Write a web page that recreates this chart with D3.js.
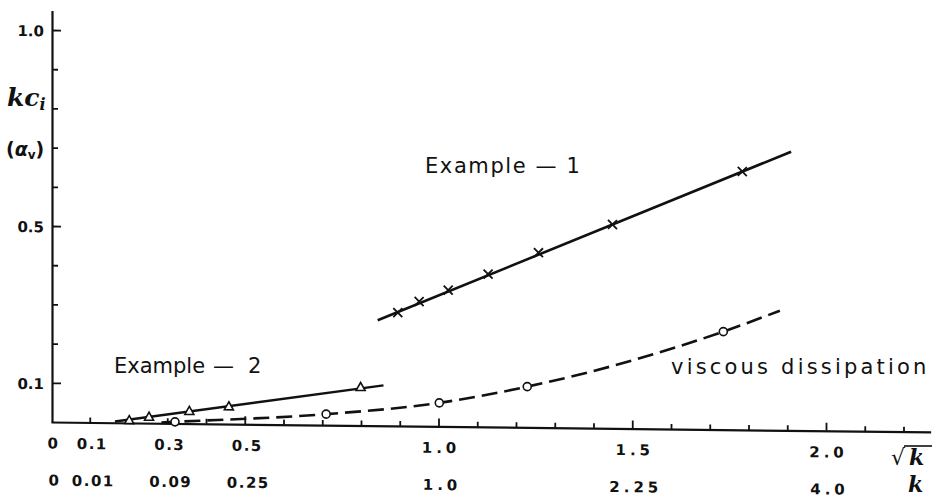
<!DOCTYPE html>
<html>
<head>
<meta charset="utf-8">
<script src="https://cdn.jsdelivr.net/npm/d3@7"></script>
<style>
  body { margin: 0; background: #fff; }
  svg { display: block; }
  .note { font-family: "DejaVu Sans", sans-serif; font-size: 21px; fill: #111; }
</style>
</head>
<body>
<div id="chart"></div>
<script>
// x is sqrt(k); second label row gives k itself
var xTickVals = [0, 0.1, 0.3, 0.5, 1.0, 1.5, 2.0];
var xLabelsSqrtK = ["0", "0.1", "0.3", "0.5", "1.0", "1.5", "2.0"];
var xLabelsK = ["0", "0.01", "0.09", "0.25", "1.0", "2.25", "4.0"];
var yTickVals = [0.1, 0.5, 1.0];
var yLabels = ["0.1", "0.5", "1.0"];

// Example 1 (crosses) and its fitted line
var ex1X = [0.895, 0.950, 1.025, 1.128, 1.258, 1.449, 1.784];
var ex1Y = [0.289, 0.318, 0.348, 0.390, 0.446, 0.520, 0.659];
var ex1Line = [[0.843, 0.269], [1.910, 0.711]];

// Example 2 (triangles) and its line
var ex2X = [0.202, 0.253, 0.357, 0.459, 0.799];
var ex2Y = [0.006, 0.015, 0.031, 0.044, 0.097];
var ex2Line = [[0.165, 0.003], [0.858, 0.103]];

// viscous dissipation (circles), dashed curve
var viscX = [0.320, 0.710, 1.002, 1.229, 1.735];
var viscY = [0.004, 0.028, 0.060, 0.104, 0.250];
var viscStart = [0.285, 0.002];
var viscEnd = [1.881, 0.305];

var width = 940, height = 502;

var svg = d3.select('#chart').append('svg')
  .attr('width', width)
  .attr('height', height);

// scanned figure is slightly sheared, bottom axis drops to the right
var plot = svg.append('g')
  .attr('transform', 'translate(52,0) skewY(0.65) translate(-52,0)');

var x = d3.scaleLinear().domain([0, 2.27]).range([51, 51 + 2.27 * 387.5]);
var y = d3.scaleLinear().domain([0, 1.05]).range([422, 422 - 1.05 * 392]);

var minorX = d3.range(1, 23).map(function(i) { return i / 10; });
var minorY = d3.range(1, 11).map(function(i) { return i / 10; });

function labelStyle(sel) {
  sel.selectAll('.tick text')
    .attr('font-family', '"DejaVu Sans", sans-serif')
    .attr('font-weight', 'bold')
    .attr('font-size', 15)
    .attr('fill', '#111');
}

// bottom axis, ticks pointing up
var xAxis = plot.append('g')
  .attr('transform', 'translate(0,' + y(0) + ')')
  .call(d3.axisBottom(x).tickValues(minorX).tickSize(-5).tickSizeOuter(0).tickFormat(''));
xAxis.select('.domain').attr('stroke', '#111').attr('stroke-width', 2.2);
xAxis.selectAll('.tick line')
  .attr('stroke', '#111').attr('stroke-width', 1.8)
  .attr('y2', function(d) { return (Math.abs(d * 2 - Math.round(d * 2)) < 1e-6) ? -8 : -5; });

// left axis, ticks pointing right
var yAxis = plot.append('g')
  .attr('transform', 'translate(52,0)')
  .call(d3.axisLeft(y).tickValues(minorY).tickSize(-6).tickSizeOuter(0).tickFormat(''));
yAxis.select('.domain').attr('stroke', '#111').attr('stroke-width', 2.2);
yAxis.selectAll('.tick line')
  .attr('stroke', '#111').attr('stroke-width', 1.8)
  .attr('x2', function(d) { return yTickVals.indexOf(Math.round(d * 10) / 10) >= 0 ? 9 : 6; });

// y labels
var yLab = plot.append('g')
  .attr('transform', 'translate(44,0)')
  .call(d3.axisLeft(y).tickValues(yTickVals).tickSize(0)
    .tickFormat(function(d, i) { return yLabels[i]; }));
yLab.select('.domain').remove();
labelStyle(yLab);
yLab.selectAll('.tick text').attr('x', 0).attr('dy', '0.4em');

// two rows of x labels
var row1 = plot.append('g')
  .attr('transform', 'translate(2,' + (y(0) + 13) + ')')
  .call(d3.axisBottom(x).tickValues(xTickVals).tickSize(0)
    .tickFormat(function(d, i) { return xLabelsSqrtK[i]; }));
row1.select('.domain').remove();
labelStyle(row1);
row1.selectAll('.tick text').attr('letter-spacing', function(d) { return d >= 1 ? 4 : 1.5; });

var row2 = plot.append('g')
  .attr('transform', 'translate(3,' + (y(0) + 50) + ')')
  .call(d3.axisBottom(x).tickValues(xTickVals).tickSize(0)
    .tickFormat(function(d, i) { return xLabelsK[i]; }));
row2.select('.domain').remove();
labelStyle(row2);
row2.selectAll('.tick text').attr('letter-spacing', function(d) { return d >= 1 ? 4 : 1.5; });

var line = d3.line()
  .x(function(d) { return x(d[0]); })
  .y(function(d) { return y(d[1]); });

// Example 1
plot.append('path')
  .datum(ex1Line)
  .attr('d', line)
  .attr('fill', 'none').attr('stroke', '#111').attr('stroke-width', 2.6);

plot.append('g').selectAll('.cross')
  .data(d3.zip(ex1X, ex1Y))
  .enter().append('path')
  .attr('class', 'cross')
  .attr('d', function(d) {
    var cx = x(d[0]), cy = y(d[1]), s = 4.5;
    return 'M' + (cx - s) + ',' + (cy - s) + 'L' + (cx + s) + ',' + (cy + s) +
      'M' + (cx - s) + ',' + (cy + s) + 'L' + (cx + s) + ',' + (cy - s);
  })
  .attr('stroke', '#111').attr('stroke-width', 1.8);

// Example 2
plot.append('path')
  .datum(ex2Line)
  .attr('d', line)
  .attr('fill', 'none').attr('stroke', '#111').attr('stroke-width', 2.4);

plot.append('g').selectAll('.tri')
  .data(d3.zip(ex2X, ex2Y))
  .enter().append('path')
  .attr('class', 'tri')
  .attr('d', function(d) {
    var cx = x(d[0]), cy = y(d[1]);
    return 'M' + cx + ',' + (cy - 5) + 'L' + (cx + 4.5) + ',' + (cy + 3) + 'L' + (cx - 4.5) + ',' + (cy + 3) + 'Z';
  })
  .attr('fill', '#fff').attr('stroke', '#111').attr('stroke-width', 1.6);

// viscous dissipation
var viscPts = [viscStart].concat(d3.zip(viscX, viscY), [viscEnd]);
plot.append('path')
  .datum(viscPts)
  .attr('d', line.curve(d3.curveMonotoneX))
  .attr('fill', 'none').attr('stroke', '#111').attr('stroke-width', 2.6)
  .attr('stroke-dasharray', '16,7');

plot.append('g').selectAll('.circ')
  .data(d3.zip(viscX, viscY))
  .enter().append('circle')
  .attr('class', 'circ')
  .attr('cx', function(d) { return x(d[0]); })
  .attr('cy', function(d) { return y(d[1]); })
  .attr('r', 4)
  .attr('fill', '#fff').attr('stroke', '#111').attr('stroke-width', 1.6);

// annotations
svg.append('text').attr('class', 'note')
  .attr('x', 425).attr('y', 173).attr('letter-spacing', 1.6)
  .text('Example — 1');

var e2 = svg.append('text').attr('class', 'note')
  .attr('x', 114).attr('y', 373).attr('font-size', 22);
e2.append('tspan').text('Example');
e2.append('tspan').attr('dx', 8).text('—');
e2.append('tspan').attr('dx', 14).text('2');

svg.append('text').attr('class', 'note')
  .attr('x', 671).attr('y', 374).attr('letter-spacing', 3.2)
  .text('viscous dissipation');

// y axis title
var yt = svg.append('text')
  .attr('x', 7).attr('y', 106)
  .attr('font-family', '"DejaVu Serif", serif')
  .attr('font-style', 'italic').attr('font-weight', 'bold')
  .attr('font-size', 25).attr('fill', '#111');
yt.append('tspan').text('kc');
yt.append('tspan').attr('font-size', 16).attr('dy', 4).text('i');

var ya = svg.append('text')
  .attr('x', 6).attr('y', 156)
  .attr('font-family', '"DejaVu Sans", sans-serif')
  .attr('font-weight', 'bold')
  .attr('font-size', 19).attr('fill', '#111');
ya.append('tspan').text('(');
ya.append('tspan').attr('font-style', 'italic').text('α');
ya.append('tspan').attr('font-size', 12).attr('dy', 3).text('v');
ya.append('tspan').attr('dy', -3).text(')');

// x axis titles: sqrt(k) and k
svg.append('text')
  .attr('x', 891).attr('y', 465)
  .attr('font-family', '"DejaVu Sans", sans-serif')
  .attr('font-size', 22).attr('fill', '#111')
  .text('√');
svg.append('line')
  .attr('x1', 904).attr('x2', 932).attr('y1', 446).attr('y2', 446)
  .attr('stroke', '#111').attr('stroke-width', 1.6);
svg.append('text')
  .attr('x', 909).attr('y', 465)
  .attr('font-family', '"DejaVu Serif", serif')
  .attr('font-style', 'italic').attr('font-weight', 'bold')
  .attr('font-size', 22).attr('fill', '#111')
  .text('k');
svg.append('text')
  .attr('x', 908).attr('y', 492)
  .attr('font-family', '"DejaVu Serif", serif')
  .attr('font-style', 'italic').attr('font-weight', 'bold')
  .attr('font-size', 22).attr('fill', '#111')
  .text('k');
</script>
</body>
</html>
